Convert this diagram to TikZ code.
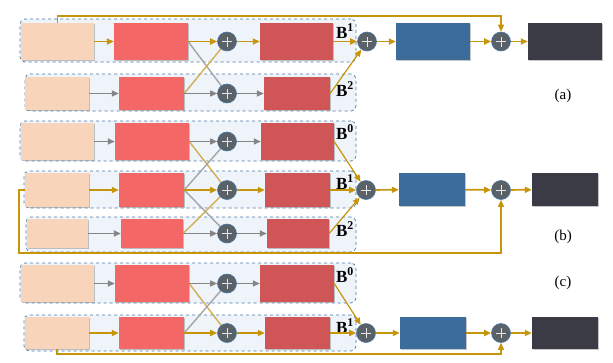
\documentclass[tikz,border=0pt]{standalone}
\usepackage{fontspec}
\setmainfont{Liberation Serif}
\usetikzlibrary{arrows.meta,shadows}
\definecolor{peachC}{HTML}{F8D5BA}
\definecolor{redA}{HTML}{F36767}
\definecolor{redB}{HTML}{D05556}
\definecolor{blueC}{HTML}{3B6C9A}
\definecolor{darkC}{HTML}{3B3B46}
\definecolor{goldC}{HTML}{C6950A}
\definecolor{goldL}{HTML}{D2AE55}
\definecolor{grayC}{HTML}{858585}
\definecolor{grayL}{HTML}{A5A5A5}
\definecolor{circC}{HTML}{5A6167}
\definecolor{circB}{HTML}{4A78A8}
\definecolor{contF}{HTML}{EEF4FA}
\definecolor{contB}{HTML}{4F78A4}
\newcommand\mybox[6]{\node[#1, minimum width={#5-#3}, minimum height={#6-#4}] (#2) at ({(#3+#5)/2},{(#4+#6)/2}) {};}
\begin{document}
\begin{tikzpicture}[x=1pt,y=-1pt,
  cont/.style={draw=contB, fill=contF, dashed, line width=0.7pt, rounded corners=5pt, inner sep=0pt},
  blk/.style={inner sep=0pt, drop shadow={shadow xshift=1.2pt, shadow yshift=-1.2pt, opacity=0.45}},
  peach/.style={blk, fill=peachC},
  redone/.style={blk, fill=redA},
  redtwo/.style={blk, fill=redB},
  bluebox/.style={blk, fill=blueC},
  darkbox/.style={blk, fill=darkC},
  plus/.style={circle, minimum size=19pt, inner sep=0pt, fill=circC, draw=circB, line width=0.6pt,
    path picture={\draw[white!85!circC, line width=0.6pt]
      ([xshift=-5pt]path picture bounding box.center) -- ([xshift=5pt]path picture bounding box.center)
      ([yshift=-5pt]path picture bounding box.center) -- ([yshift=5pt]path picture bounding box.center);}},
  blab/.style={font=\fontsize{17}{17}\selectfont\bfseries, inner sep=0pt},
  sublab/.style={font=\fontsize{15}{15}\selectfont, inner sep=0pt},
  tip/.style={-{Triangle[length=7pt,width=6pt]}},
  ga/.style={draw=goldC, line width=1.7pt, tip},
  gl/.style={draw=goldL, line width=1.4pt, tip},
  gn/.style={draw=goldC, line width=1.4pt, tip},
  gt/.style={draw=goldC, line width=1.2pt, tip},
  gr/.style={draw=grayC, line width=1.5pt, tip},
  gg/.style={draw=grayL, line width=1.4pt, tip},
]
\useasboundingbox (0,0) rectangle (613,362);

% ---------------- (a) ----------------
\mybox{cont}{a1c}{20}{19}{356}{62}
\mybox{cont}{a2c}{25}{74}{356}{111}
\mybox{peach}{a1p}{21}{23}{94}{60}
\mybox{redone}{a1r}{114}{23}{188}{60}
\mybox{redtwo}{a1d}{260}{23}{333}{60}
\mybox{peach}{a2p}{25}{77}{89}{110}
\mybox{redone}{a2r}{119}{77}{184}{110}
\mybox{redtwo}{a2d}{264}{77}{330}{110}
\mybox{bluebox}{ab}{396}{23}{470}{60}
\mybox{darkbox}{ak}{528}{23}{602}{60}
\node[blab] (a1l) at (345,31) {B\textsuperscript{1}};
\node[blab] (a2l) at (345,89) {B\textsuperscript{2}};
\node[sublab] (la) at (563,96) {(a)};

\draw[gr] (a2p) -- (a2r);
\draw[gg] (a1r.east) -- (227,93.5);
\draw[gl] (a2r.east) -- (227,41.5);
\node[plus] (a1s) at (227,41.5) {};
\node[plus] (a2s) at (227,93.5) {};
\node[plus] (am) at (367,41.5) {};
\node[plus] (ap) at (501,41.5) {};
\draw[ga] (a1p) -- (a1r);
\draw[ga] (a1r) -- (a1s);
\draw[ga] (a1s) -- (a1d);
\draw[gr] (a2r) -- (a2s);
\draw[gr] (a2s) -- (a2d);
\draw[ga] (a1d) -- (am);
\draw[gt] (a2d.east) -- (am);
\draw[ga] (am) -- (ab);
\draw[ga] (ab) -- (ap);
\draw[ga] (ap) -- (ak);
\coordinate (ta1) at (57.5,16);
\draw[gn] (a1p.north) -- (ta1) -| (ap.north);

% ---------------- (b) ----------------
\mybox{cont}{b0c}{20}{121}{356}{161}
\mybox{cont}{b1c}{24}{171}{356}{208}
\mybox{cont}{b2c}{26}{217}{356}{252}
\mybox{peach}{b0p}{21}{123}{94}{160}
\mybox{redone}{b0r}{115}{123}{189}{160}
\mybox{redtwo}{b0d}{261}{123}{334}{160}
\mybox{peach}{b1p}{25}{173}{89}{207}
\mybox{redone}{b1r}{119}{173}{184}{207}
\mybox{redtwo}{b1d}{265}{173}{330}{207}
\mybox{peach}{b2p}{27}{219}{88}{248}
\mybox{redone}{b2r}{121}{219}{183}{248}
\mybox{redtwo}{b2d}{267}{219}{329}{248}
\mybox{bluebox}{bb}{399}{173}{465}{206}
\mybox{darkbox}{bk}{532}{173}{598}{206}
\node[blab] (b0l) at (345,132) {B\textsuperscript{0}};
\node[blab] (b1l) at (345,182) {B\textsuperscript{1}};
\node[blab] (b2l) at (345,229) {B\textsuperscript{2}};
\node[sublab] (lb) at (563,237) {(b)};

\coordinate (b0sc) at (227,141.5);
\coordinate (b1sc) at (227,190);
\coordinate (b2sc) at (227,233.5);
\draw[gl] (b0r.east) -- (b1sc);
\draw[gl] (b2r.east) -- (b1sc);
\draw[gg] (b1r.east) -- (b0sc);
\draw[gg] (b1r.east) -- (b2sc);
\node[plus] (b0s) at (b0sc) {};
\node[plus] (b1s) at (b1sc) {};
\node[plus] (b2s) at (b2sc) {};
\node[plus] (bm) at (366,190) {};
\node[plus] (bp) at (501,190) {};
\draw[gr] (b0p) -- (b0r);
\draw[gr] (b0r) -- (b0s);
\draw[gr] (b0s) -- (b0d);
\draw[ga] (b1p) -- (b1r);
\draw[ga] (b1r) -- (b1s);
\draw[ga] (b1s) -- (b1d);
\draw[gr] (b2p) -- (b2r);
\draw[gr] (b2r) -- (b2s);
\draw[gr] (b2s) -- (b2d);
\draw[gt] (b0d.east) -- (bm);
\draw[ga] (b1d) -- (bm);
\draw[gt] (b2d.east) -- (bm);
\draw[ga] (bm) -- (bb);
\draw[ga] (bb) -- (bp);
\draw[ga] (bp) -- (bk);
\coordinate (lb1) at (19,190);
\coordinate (lb2) at (19,253);
\draw[gn] (b1p.west) -- (lb1) -- (lb2) -| (bp.south);

% ---------------- (c) ----------------
\mybox{cont}{c0c}{20}{263}{356}{303}
\mybox{cont}{c1c}{24}{315}{356}{351}
\mybox{peach}{c0p}{21}{265}{94}{302}
\mybox{redone}{c0r}{115}{265}{189}{302}
\mybox{redtwo}{c0d}{260}{265}{334}{302}
\mybox{peach}{c1p}{25}{317}{89}{349}
\mybox{redone}{c1r}{119}{317}{184}{349}
\mybox{redtwo}{c1d}{265}{317}{330}{349}
\mybox{bluebox}{cb}{400}{317}{466}{349}
\mybox{darkbox}{ck}{532}{317}{598}{349}
\node[blab] (c0l) at (345,275) {B\textsuperscript{0}};
\node[blab] (c1l) at (345,326) {B\textsuperscript{1}};
\node[sublab] (lc) at (563,283) {(c)};

\coordinate (c0sc) at (227,283.5);
\coordinate (c1sc) at (227,333);
\draw[gl] (c0r.east) -- (c1sc);
\draw[gg] (c1r.east) -- (c0sc);
\node[plus] (c0s) at (c0sc) {};
\node[plus] (c1s) at (c1sc) {};
\node[plus] (cm) at (366,333) {};
\node[plus] (cp) at (501,333) {};
\draw[gr] (c0p) -- (c0r);
\draw[gr] (c0r) -- (c0s);
\draw[gr] (c0s) -- (c0d);
\draw[ga] (c1p) -- (c1r);
\draw[ga] (c1r) -- (c1s);
\draw[ga] (c1s) -- (c1d);
\draw[gt] (c0d.east) -- (cm);
\draw[ga] (c1d) -- (cm);
\draw[ga] (cm) -- (cb);
\draw[ga] (cb) -- (cp);
\draw[ga] (cp) -- (ck);
\coordinate (lc1) at (57,354);
\draw[gn] (c1p.south) -- (lc1) -| (cp.south);
\end{tikzpicture}
\end{document}
